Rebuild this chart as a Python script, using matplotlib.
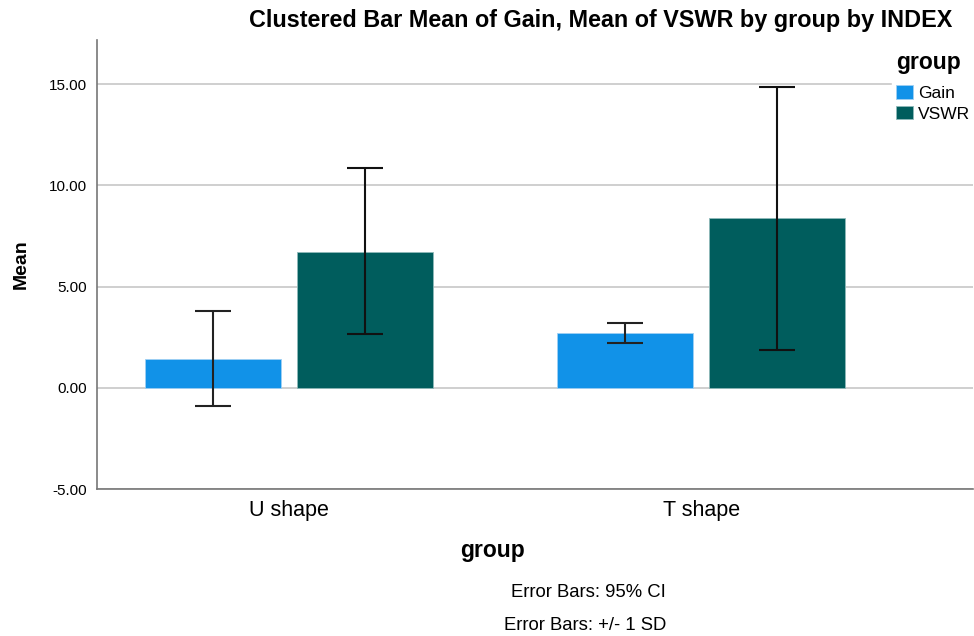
import numpy as np
import matplotlib
matplotlib.use("Agg")
import matplotlib.pyplot as plt

plt.rcParams['font.family'] = ['Liberation Sans', 'DejaVu Sans']

# Data
groups = ['U shape', 'T shape']
gainMean = [1.43, 2.70]
gainLow = [-0.92, 2.20]
gainHigh = [3.81, 3.19]
vswrMean = [6.72, 8.37]
vswrLow = [2.65, 1.87]
vswrHigh = [10.85, 14.86]
yTicks = [-5, 0, 5, 10, 15]

gainColor = '#1192e8'
vswrColor = '#005d5d'

fig = plt.figure(figsize=(9.74, 6.36), dpi=100)
ax = fig.add_axes([0.0996, 0.231, 0.8994, 0.706])

x = np.arange(len(groups))
width = 0.33
offset = 0.185

def errs(mean, low, high):
    mean = np.array(mean)
    return [mean - np.array(low), np.array(high) - mean]

ax.bar(x - offset, gainMean, width, color=gainColor, edgecolor='#9fd0f4',
       linewidth=0.6, label='Gain', zorder=2)
ax.bar(x + offset, vswrMean, width, color=vswrColor, edgecolor='#8fb9b9',
       linewidth=0.6, label='VSWR', zorder=2)
ax.errorbar(x - offset, gainMean, yerr=errs(gainMean, gainLow, gainHigh), fmt='none',
            ecolor='#222222', elinewidth=1.5, capsize=13, capthick=1.5, zorder=3)
ax.errorbar(x + offset, vswrMean, yerr=errs(vswrMean, vswrLow, vswrHigh), fmt='none',
            ecolor='#111111', elinewidth=1.5, capsize=13, capthick=1.5, zorder=3)

ax.set_xlim(-0.466, 1.66)
ax.set_ylim(-5, 17.17)
ax.set_yticks(yTicks)
ax.set_yticklabels(['%.2f' % v for v in yTicks], fontsize=11)
ax.set_xticks(x)
ax.set_xticklabels(groups, fontsize=15.5)
ax.tick_params(axis='both', length=0)
ax.tick_params(axis='y', pad=7)
ax.tick_params(axis='x', pad=8)
ax.yaxis.grid(True, color='#cfcfcf', linewidth=1.4, zorder=0)
ax.set_axisbelow(True)
for s in ['top', 'right']:
    ax.spines[s].set_visible(False)
for s in ['left', 'bottom']:
    ax.spines[s].set_color('#777777')
    ax.spines[s].set_linewidth(1.2)

ax.set_ylabel('Mean', fontsize=14, fontweight='bold', labelpad=14)

fig.text(0.506, 0.134, 'group', ha='center', va='center', fontsize=16.5, fontweight='bold')
fig.text(0.617, 0.967, 'Clustered Bar Mean of Gain, Mean of VSWR by group by INDEX',
         ha='center', va='center', fontsize=16.8, fontweight='bold')
fig.text(0.604, 0.069, 'Error Bars: 95% CI', ha='center', va='center', fontsize=13.3)
fig.text(0.601, 0.016, 'Error Bars: +/- 1 SD', ha='center', va='center', fontsize=13.3)

leg = ax.legend(title='group', loc='upper left', bbox_to_anchor=(0.916, 0.925),
                bbox_transform=fig.transFigure, frameon=True, fontsize=12.5,
                handlelength=0.98, handleheight=0.8, handletextpad=0.3,
                labelspacing=0.3, borderpad=0.2, borderaxespad=0)
leg.get_frame().set_edgecolor('white')
leg.get_frame().set_facecolor('white')
leg.get_frame().set_alpha(1)
leg.get_title().set_fontweight('bold')
leg.get_title().set_fontsize(16.5)
leg._legend_box.align = 'left'
leg._legend_box.sep = 8

fig.savefig('out.png', dpi=100)
